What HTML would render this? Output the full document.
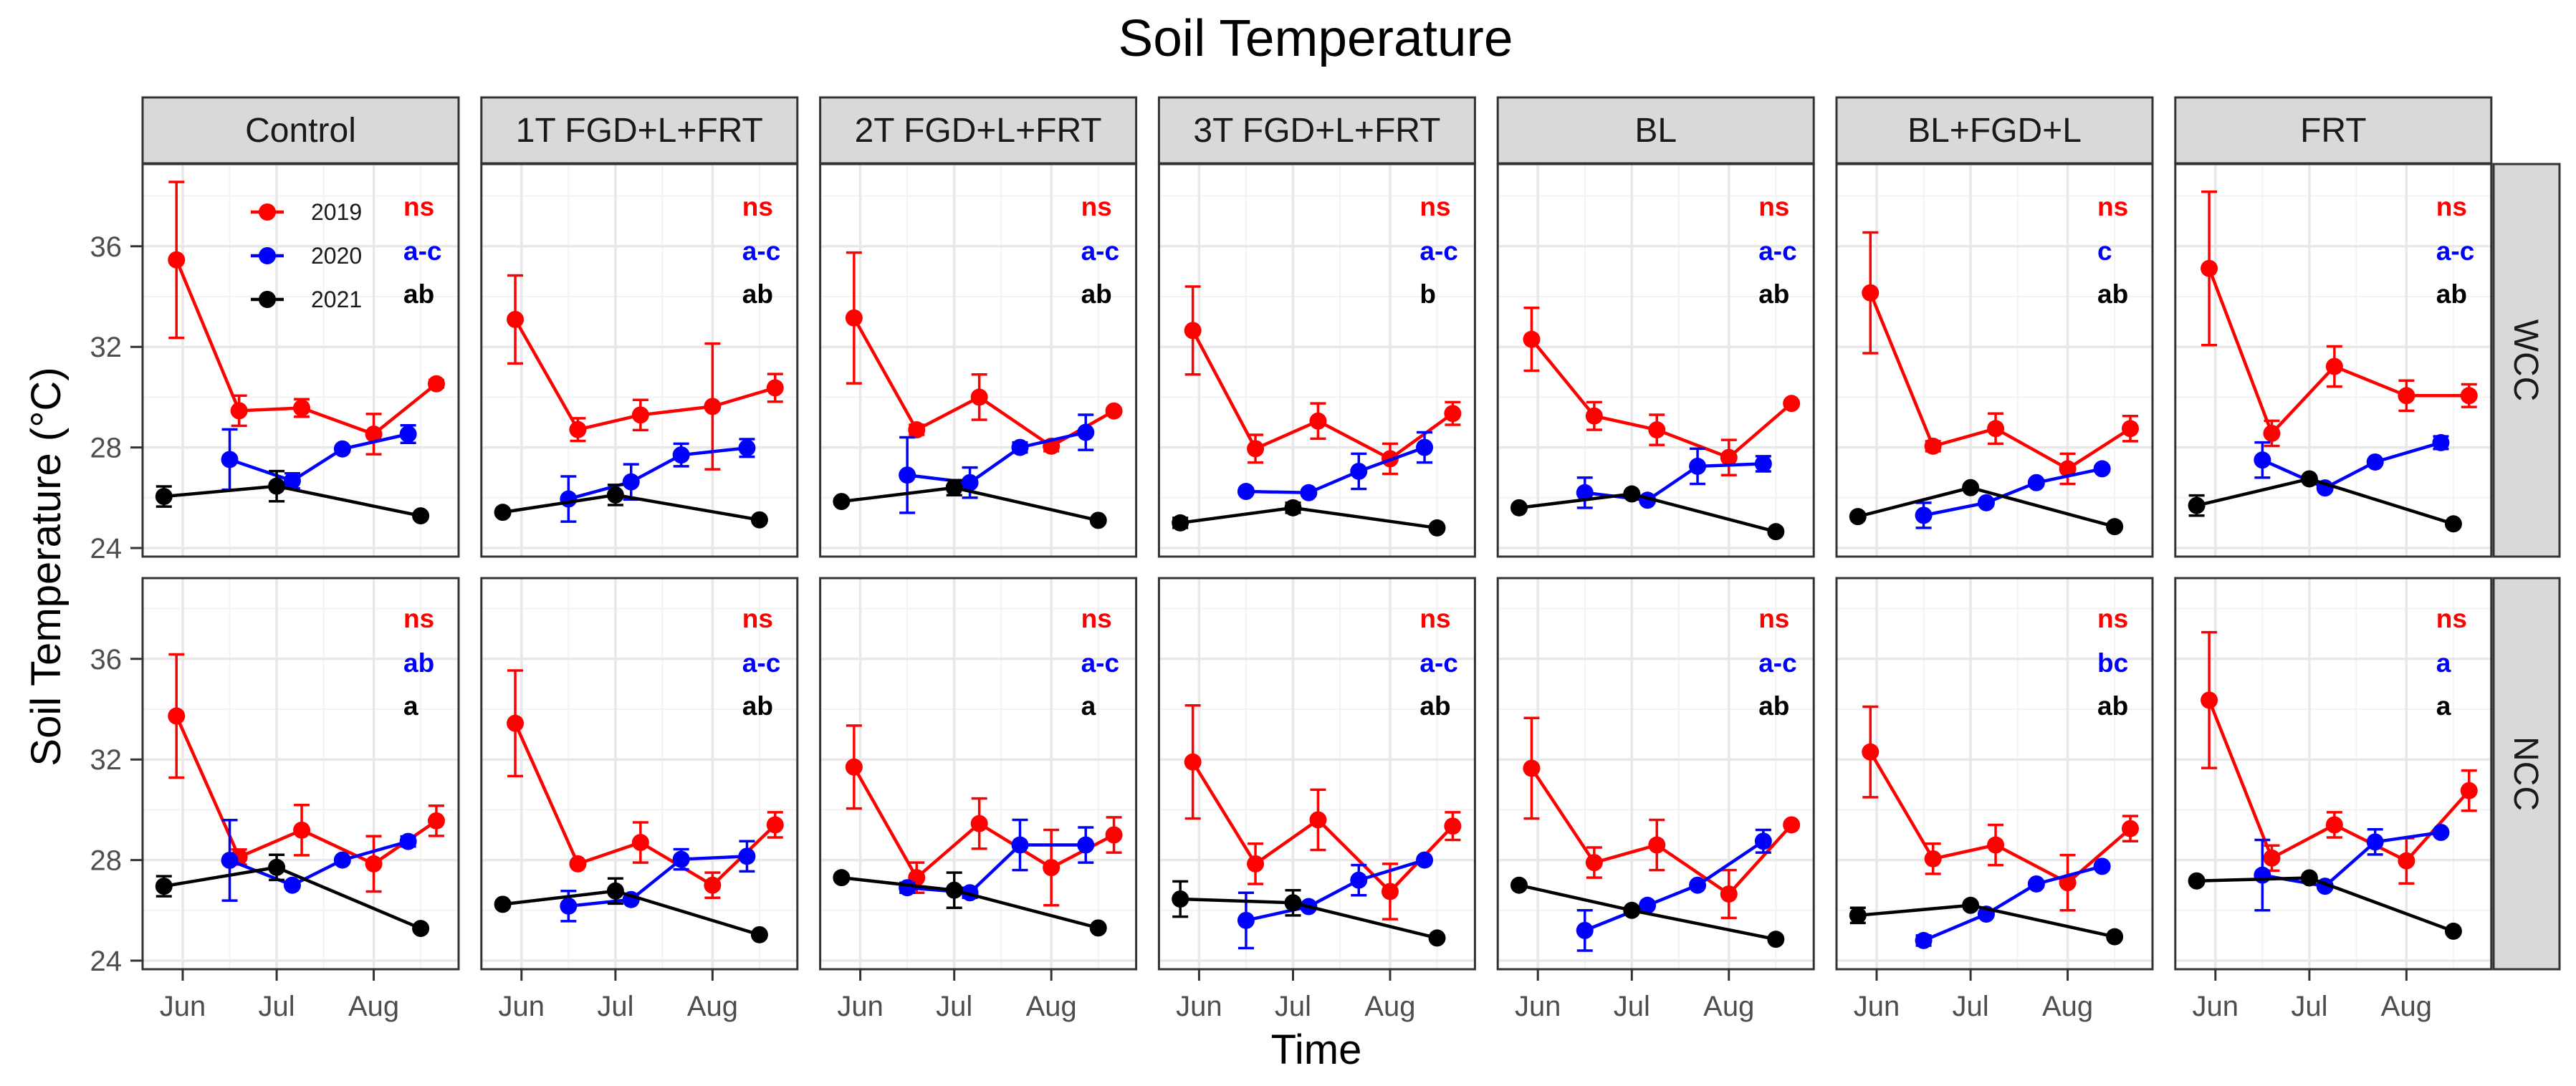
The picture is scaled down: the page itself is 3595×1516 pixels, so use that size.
<!DOCTYPE html>
<html><head><meta charset="utf-8"><style>
html,body{margin:0;padding:0;background:#fff;}
svg{display:block;font-family:"Liberation Sans",sans-serif;}
</style></head><body>
<svg id="chart" width="3595" height="1516" viewBox="0 0 3595 1516" xmlns="http://www.w3.org/2000/svg">
<rect width="3595" height="1516" fill="#fff"/>
<text x="1836" y="78" font-size="72" text-anchor="middle" textLength="551" lengthAdjust="spacingAndGlyphs" fill="#000">Soil Temperature</text>
<text x="1837" y="1485" font-size="58" text-anchor="middle" fill="#000">Time</text>
<text transform="translate(84,791) rotate(-90)" font-size="58" text-anchor="middle" fill="#000">Soil Temperature (°C)</text>
<g id="panels"></g>
</svg>
<script>
const treatments = ["Control","1T FGD+L+FRT","2T FGD+L+FRT","3T FGD+L+FRT","BL","BL+FGD+L","FRT"];
const rows = ["WCC","NCC"];
const yTicks = [24,28,32,36];
const monthLabels = ["Jun","Jul","Aug"];
const monthDays = [0,30,61];
const days2019 = [-2,18,38,61,81];
const days2020 = [15,35,51,72];
const days2021 = [-6,30,76];
const wcc2019 = [[35.46,29.46,29.57,28.53,30.53],[33.09,28.71,29.29,29.63,30.37],[33.15,28.7,30.0,28.05,29.45],[32.65,27.95,29.05,27.55,29.35],[32.3,29.25,28.7,27.6,29.75],[34.15,28.05,28.75,27.15,28.75],[35.12,28.56,31.22,30.06,30.06]];
const wcc2019Err = [[3.1,0.6,0.35,0.8,0.15],[1.75,0.45,0.6,2.5,0.55],[2.6,0.2,0.9,0.2,0.1],[1.75,0.55,0.7,0.6,0.45],[1.25,0.55,0.6,0.7,0.1],[2.4,0.2,0.6,0.6,0.5],[3.05,0.5,0.8,0.6,0.45]];
const wcc2020 = [[27.52,26.67,27.94,28.53],[25.95,26.63,27.7,27.98],[26.9,26.6,28.0,28.6],[26.25,26.2,27.05,28.0],[26.2,25.9,27.25,27.35],[25.3,25.8,26.6,27.15],[27.5,26.39,27.42,28.19]];
const wcc2020Err = [[1.2,0.3,0.1,0.35],[0.9,0.7,0.45,0.35],[1.5,0.6,0.2,0.7],[0.1,0.1,0.7,0.6],[0.6,0.1,0.7,0.3],[0.5,0.1,0.1,0.1],[0.7,0.1,0.1,0.25]];
const wcc2021 = [[26.05,26.46,25.28],[25.42,26.11,25.12],[25.85,26.4,25.1],[25.0,25.6,24.8],[25.6,26.15,24.65],[25.25,26.4,24.85],[25.69,26.75,24.96]];
const wcc2021Err = [[0.4,0.6,0.1],[0.1,0.4,0.1],[0.1,0.3,0.1],[0.2,0.2,0.1],[0.1,0.1,0.1],[0.1,0.1,0.1],[0.4,0.1,0.1]];
const ncc2019 = [[33.73,28.12,29.19,27.85,29.56],[33.44,27.85,28.7,27.0,29.4],[31.7,27.3,29.45,27.7,29.0],[31.9,27.85,29.6,26.75,29.35],[31.65,27.9,28.6,26.65,29.4],[32.3,28.05,28.6,27.1,29.25],[34.36,28.08,29.4,27.97,30.76]];
const ncc2019Err = [[2.45,0.3,1.0,1.1,0.6],[2.1,0.1,0.8,0.5,0.5],[1.65,0.6,1.0,1.5,0.7],[2.25,0.8,1.2,1.1,0.55],[2.0,0.6,1.0,0.95,0.1],[1.8,0.6,0.8,1.1,0.5],[2.7,0.5,0.5,0.9,0.8]];
const ncc2020 = [[27.99,27.0,28.0,28.74],[26.17,26.43,28.03,28.15],[26.9,26.7,28.6,28.6],[25.6,26.15,27.2,28.0],[25.2,26.2,27.0,28.75],[24.8,25.85,27.05,27.75],[27.4,26.96,28.72,29.1]];
const ncc2020Err = [[1.6,0.1,0.1,0.2],[0.6,0.1,0.4,0.6],[0.2,0.2,1.0,0.7],[1.1,0.1,0.6,0.1],[0.8,0.1,0.1,0.45],[0.2,0.1,0.1,0.1],[1.4,0.1,0.5,0.1]];
const ncc2021 = [[26.96,27.71,25.28],[26.24,26.77,25.03],[27.3,26.8,25.3],[26.45,26.3,24.9],[27.0,26.0,24.85],[25.8,26.2,24.95],[27.17,27.29,25.17]];
const ncc2021Err = [[0.4,0.5,0.1],[0.1,0.5,0.1],[0.1,0.7,0.1],[0.7,0.5,0.1],[0.1,0.1,0.1],[0.3,0.1,0.1],[0.1,0.1,0.1]];
const letters2019 = [["ns","ns","ns","ns","ns","ns","ns"],["ns","ns","ns","ns","ns","ns","ns"]];
const letters2020 = [["a-c","a-c","a-c","a-c","a-c","c","a-c"],["ab","a-c","a-c","a-c","a-c","bc","a"]];
const letters2021 = [["ab","ab","ab","b","ab","ab","ab"],["a","ab","a","ab","ab","ab","a"]];
const years = ["2019","2020","2021"];

const NS = "http://www.w3.org/2000/svg";
const root = document.getElementById("panels");
const PW = 441, STEP = 472.8, LEFT0 = 199;
const rowTop = [229, 807], rowBot = [777, 1353], rowZero = [765, 1341], PX_PER_C = 35.1;
const colors = ["#ff0000", "#0000ff", "#000000"];
function panelLeft(i){ return LEFT0 + i*STEP; }
function xScale(i, d){ return panelLeft(i) + 56 + d*4.37; }
function yScale(r, v){ return rowZero[r] - (v-24)*PX_PER_C; }
function mk(tag, attrs, parent){ const e=document.createElementNS(NS,tag); for(const k in attrs) e.setAttribute(k,attrs[k]); (parent||root).appendChild(e); return e; }

const seriesData = [
  [[wcc2019,wcc2019Err,days2019],[wcc2020,wcc2020Err,days2020],[wcc2021,wcc2021Err,days2021]],
  [[ncc2019,ncc2019Err,days2019],[ncc2020,ncc2020Err,days2020],[ncc2021,ncc2021Err,days2021]]
];
const letterSets = [letters2019, letters2020, letters2021];

// strips top
treatments.forEach((t,i)=>{
  const g = mk("g",{});
  
  
  mk("rect",{x:panelLeft(i),y:136,width:PW,height:92,fill:"#d9d9d9",stroke:"#333",'stroke-width':3},g);
  const tx = mk("text",{x:panelLeft(i)+PW/2,y:198,'font-size':48,'text-anchor':'middle',fill:'#1a1a1a'},g);
  tx.textContent = t;
});
// row strips
rows.forEach((r,ri)=>{
  const g = mk("g",{});
  
  
  mk("rect",{x:3480,y:rowTop[ri],width:92,height:rowBot[ri]-rowTop[ri],fill:"#d9d9d9",stroke:"#333",'stroke-width':3},g);
  const cy=(rowTop[ri]+rowBot[ri])/2;
  const tx = mk("text",{x:0,y:0,'font-size':48,'text-anchor':'middle',fill:'#1a1a1a',transform:`translate(3509,${cy}) rotate(90)`},g);
  tx.textContent = r;
});

rows.forEach((rname,ri)=>{
  // y ticks
  yTicks.forEach(v=>{
    const y=yScale(ri,v);
    const tl = mk("line",{x1:182,x2:199,y1:y,y2:y,stroke:"#333",'stroke-width':3});
    
    
    const tt = mk("text",{x:170,y:y+14,'font-size':40,'text-anchor':'end',fill:'#4d4d4d'});
    
    
    tt.textContent = v;
  });
  treatments.forEach((t,i)=>{
    const g = mk("g",{});
    
    
    const L=panelLeft(i), T=rowTop[ri], B=rowBot[ri];
    mk("rect",{x:L,y:T,width:PW,height:B-T,fill:"#fff"},g);
    // minor grid
    [26,30,34,38].forEach(v=>mk("line",{x1:L,x2:L+PW,y1:yScale(ri,v),y2:yScale(ri,v),stroke:"#f3f3f3",'stroke-width':2},g));
    [-15,15,45,76].forEach(d=>{const x=xScale(i,d); if(x>L&&x<L+PW) mk("line",{x1:x,x2:x,y1:T,y2:B,stroke:"#f3f3f3",'stroke-width':2},g);});
    // major grid
    yTicks.forEach(v=>mk("line",{x1:L,x2:L+PW,y1:yScale(ri,v),y2:yScale(ri,v),stroke:"#e8e8e8",'stroke-width':3.5},g));
    monthDays.forEach(d=>mk("line",{x1:xScale(i,d),x2:xScale(i,d),y1:T,y2:B,stroke:"#e8e8e8",'stroke-width':3.5},g));
    // series
    seriesData[ri].forEach((s,si)=>{
      const vals=s[0][i], errs=s[1][i], days=s[2];
      const sg = mk("g",{},g);
      
      
      const pts = vals.map((v,k)=>xScale(i,days[k])+","+yScale(ri,v)).join(" ");
      mk("polyline",{points:pts,fill:"none",stroke:colors[si],'stroke-width':4.5},sg);
      vals.forEach((v,k)=>{
        const x=xScale(i,days[k]), y1=yScale(ri,v-errs[k]), y2=yScale(ri,v+errs[k]);
        const eb = mk("path",{d:`M${x-11},${y1}H${x+11}M${x},${y1}V${y2}M${x-11},${y2}H${x+11}`,stroke:colors[si],'stroke-width':3.5,fill:'none'},sg);
        
        
        const c = mk("circle",{cx:x,cy:yScale(ri,v),r:12,fill:colors[si]},sg);
        
        
      });
    });
    // letters
    letterSets.forEach((ls,si)=>{
      const tx = mk("text",{x:L+364,y:T+[72,134,194][si]-(ri?3:0),'font-size':37,'font-weight':'bold',fill:colors[si]},g);
      
      
      tx.textContent = ls[ri][i];
    });
    mk("rect",{x:L,y:T,width:PW,height:B-T,fill:"none",stroke:"#333",'stroke-width':3},g);
    // x ticks on bottom row
    if(ri===1){
      monthDays.forEach((d,k)=>{
        const x=xScale(i,d);
        const tk = mk("line",{x1:x,x2:x,y1:B,y2:B+16,stroke:"#333",'stroke-width':3});
        
        
        const tl = mk("text",{x:x,y:1418,'font-size':40,'text-anchor':'middle',fill:'#4d4d4d'});
        
        
        tl.textContent = monthLabels[k];
      });
    }
  });
});

// legend
const lg = mk("g",{});


years.forEach((yr,k)=>{
  const y=296+k*61;
  const e = mk("g",{},lg);
  
  
  mk("line",{x1:350,x2:396,y1:y,y2:y,stroke:colors[k],'stroke-width':4.5},e);
  mk("circle",{cx:373,cy:y,r:12,fill:colors[k]},e);
  const t = mk("text",{x:434,y:y+11,'font-size':32,fill:'#1a1a1a'},e);
  t.textContent = yr;
});
</script>
</body></html>
